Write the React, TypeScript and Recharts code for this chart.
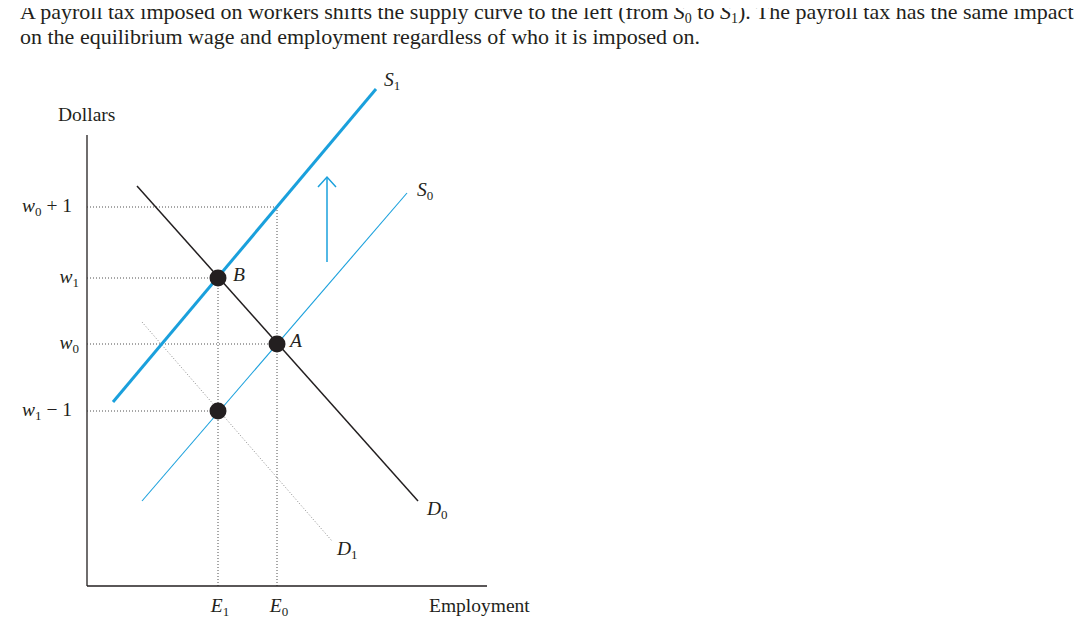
import { ComposedChart, Line, Scatter, XAxis, YAxis, ReferenceLine, ReferenceDot } from 'recharts'

// payroll tax diagram - supply shift
const BLUE = '#1aa0dc'
const INK = '#231f20'
const SERIF = '"Liberation Serif", "DejaVu Serif", serif'

const supply0 = [{ x: 55, y: 85 }, { x: 320, y: 393 }]
const supply1 = [{ x: 26, y: 184 }, { x: 289, y: 497 }]
const demand0 = [{ x: 50, y: 400 }, { x: 331, y: 85 }]
const demand1 = [{ x: 55, y: 264 }, { x: 245, y: 45 }]
const shiftArrow = [{ x: 240, y: 324 }, { x: 240, y: 409 }]
const arrowHead = [{ x: 231, y: 399 }, { x: 240, y: 409 }, { x: 249, y: 399 }]
const equilibria = [{ x: 131, y: 308 }, { x: 190, y: 242 }, { x: 131, y: 175 }]

const wageTicks = [175, 242, 308, 379]
const wageLabels: Record<number, string[]> = {
  379: ['w', '0', ' + 1'],
  308: ['w', '1', ''],
  242: ['w', '0', ''],
  175: ['w', '1', ' \u2212 1'],
}
const employmentTicks = [131, 190]
const employmentLabels: Record<number, string[]> = { 131: ['E', '1'], 190: ['E', '0'] }

const wageGuides = [{ y: 379, x: 190 }, { y: 308, x: 131 }, { y: 242, x: 190 }, { y: 175, x: 131 }]
const employmentGuides = [{ x: 131, y: 308 }, { x: 190, y: 379 }]

const curveLabels = [
  { x: 297, y: 500, text: 'S', sub: '1' },
  { x: 330, y: 390, text: 'S', sub: '0' },
  { x: 340, y: 71, text: 'D', sub: '0' },
  { x: 250, y: 31, text: 'D', sub: '1' },
  { x: 146, y: 305, text: 'B', sub: '' },
  { x: 203, y: 239, text: 'A', sub: '' },
]

function MathText({ x, y, main, sub, rest = '', anchor = 'start' }: any) {
  return (
    <text x={x} y={y} textAnchor={anchor} fontFamily={SERIF} fontSize={19.5} fill={INK}>
      <tspan fontStyle="italic">{main}</tspan>
      {sub ? <tspan fontSize={13} dy={4}>{sub}</tspan> : null}
      {rest ? <tspan dy={-4}>{rest}</tspan> : null}
    </text>
  )
}

function WageTick({ x, y, payload }: any) {
  const [m, s, r] = wageLabels[payload.value]
  const shift = r ? -15 : -8
  return <MathText x={x + 8 + shift} y={y + 5} main={m} sub={s} rest={r} anchor="end" />
}

function EmploymentTick({ x, y, payload }: any) {
  const [m, s] = employmentLabels[payload.value]
  return <MathText x={x + 2} y={y + 18} main={m} sub={s} anchor="middle" />
}

export default function App() {
  return (
    <div style={{ position: 'relative', width: 1092, height: 635, margin: -8 }}>
      <div style={{ position: 'absolute', top: 0, left: 0 }}>
        <ComposedChart width={1092} height={635} margin={{ top: 68, right: 605, bottom: 8, left: 0 }}>
          <XAxis
            type="number"
            dataKey="x"
            domain={[0, 400]}
            ticks={employmentTicks}
            height={41}
            tickLine={false}
            axisLine={{ stroke: INK, strokeWidth: 1.3 }}
            tick={<EmploymentTick />}
          />
          <YAxis
            type="number"
            dataKey="y"
            domain={[0, 518]}
            ticks={wageTicks}
            width={87}
            tickLine={false}
            axisLine={false}
            tick={<WageTick />}
          />
          <ReferenceLine segment={[{ x: 0, y: 0 }, { x: 0, y: 451 }]} stroke={INK} strokeWidth={1.3} />
          {wageGuides.map((g, i) => (
            <ReferenceLine
              key={`w${i}`}
              segment={[{ x: 0, y: g.y }, { x: g.x, y: g.y }]}
              stroke="#3a3a3a"
              strokeWidth={0.9}
              strokeDasharray="1 2"
            />
          ))}
          {employmentGuides.map((g, i) => (
            <ReferenceLine
              key={`e${i}`}
              segment={[{ x: g.x, y: 0 }, { x: g.x, y: g.y }]}
              stroke="#3a3a3a"
              strokeWidth={0.9}
              strokeDasharray="1 2"
            />
          ))}
          <Line data={demand1} dataKey="y" type="linear" stroke="#8a8a8a" strokeDasharray="1 2" strokeWidth={1} dot={false} isAnimationActive={false} />
          <Line data={supply0} dataKey="y" type="linear" stroke={BLUE} strokeWidth={1.1} dot={false} isAnimationActive={false} />
          <Line data={demand0} dataKey="y" type="linear" stroke={INK} strokeWidth={1.5} dot={false} isAnimationActive={false} />
          <Line data={supply1} dataKey="y" type="linear" stroke={BLUE} strokeWidth={3} dot={false} isAnimationActive={false} />
          <Line data={shiftArrow} dataKey="y" type="linear" stroke={BLUE} strokeWidth={1.5} dot={false} isAnimationActive={false} />
          <Line data={arrowHead} dataKey="y" type="linear" stroke={BLUE} strokeWidth={1.5} dot={false} isAnimationActive={false} />
          <Scatter
            data={equilibria}
            dataKey="y"
            isAnimationActive={false}
            shape={(p: any) => <circle cx={p.cx} cy={p.cy} r={8.5} fill={INK} />}
          />
          {curveLabels.map((c, i) => (
            <ReferenceDot
              key={`c${i}`}
              x={c.x}
              y={c.y}
              r={0}
              fill="none"
              stroke="none"
              ifOverflow="visible"
              label={(p: any) => <MathText x={p.viewBox.x} y={p.viewBox.y} main={c.text} sub={c.sub} />}
            />
          ))}
          <ReferenceDot
            x={-29}
            y={465}
            r={0}
            fill="none"
            stroke="none"
            ifOverflow="visible"
            label={(p: any) => (
              <text x={p.viewBox.x} y={p.viewBox.y} fontFamily={SERIF} fontSize={19.5} fill={INK}>Dollars</text>
            )}
          />
          <ReferenceDot
            x={342}
            y={-26}
            r={0}
            fill="none"
            stroke="none"
            ifOverflow="visible"
            label={(p: any) => (
              <text x={p.viewBox.x} y={p.viewBox.y} fontFamily={SERIF} fontSize={19.5} fill={INK}>Employment</text>
            )}
          />
        </ComposedChart>
      </div>
      <svg width={1092} height={60} style={{ position: 'absolute', top: 0, left: 0, overflow: 'visible' }}>
        <text x={20} y={19} fontFamily={SERIF} fontSize={22} fill={INK}>
          <tspan>A payroll tax imposed on workers shifts the supply curve to the left (from </tspan>
          <tspan fontStyle="italic">S</tspan>
          <tspan fontSize={14} dy={4}>0</tspan>
          <tspan dy={-4}> to </tspan>
          <tspan fontStyle="italic">S</tspan>
          <tspan fontSize={14} dy={4}>1</tspan>
          <tspan dy={-4}>). The payroll tax has the same impact</tspan>
        </text>
        <text x={20} y={44} fontFamily={SERIF} fontSize={22} fill={INK}>
          on the equilibrium wage and employment regardless of who it is imposed on.
        </text>
      </svg>
    </div>
  )
}
